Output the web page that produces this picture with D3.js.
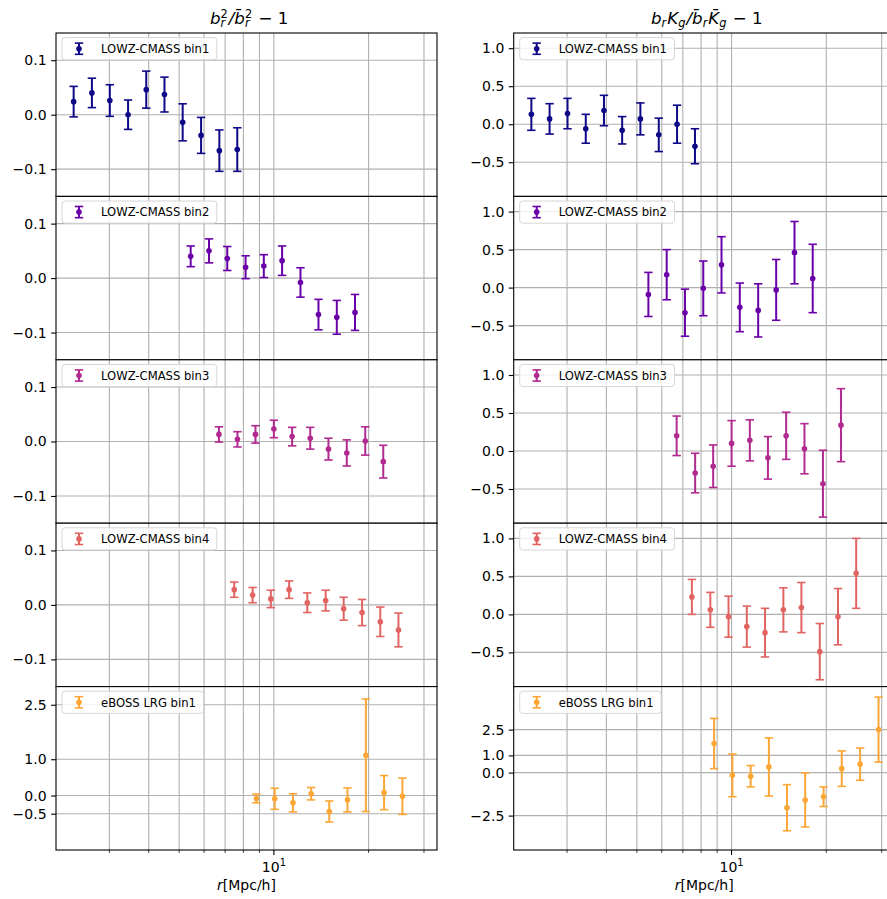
<!DOCTYPE html>
<html><head><meta charset="utf-8">
<script src="https://cdn.jsdelivr.net/npm/d3@7"></script>
<style>body{margin:0;background:#fff}svg{display:block;font-family:"DejaVu Sans",sans-serif}</style>
</head><body><svg id="c" width="887" height="899"></svg>
<script>
// ---------------- data ----------------
const labels = ["LOWZ-CMASS bin1","LOWZ-CMASS bin2","LOWZ-CMASS bin3","LOWZ-CMASS bin4","eBOSS LRG bin1"];
const colors = ["#0d0887","#6a00a8","#b12a90","#e16462","#fca636"];

const r_bin1  = [2.31, 2.64, 3.01, 3.44, 3.93, 4.49, 5.13, 5.87, 6.71, 7.65];
const r_bin2  = [5.44, 6.22, 7.11, 8.13, 9.29, 10.62, 12.15, 13.86, 15.85, 18.11];
const r_bin3  = [6.69, 7.66, 8.74, 10.0, 11.43, 13.05, 14.91, 17.05, 19.52, 22.27];
const r_bin4  = [7.48, 8.56, 9.78, 11.18, 12.77, 14.61, 16.67, 19.07, 21.79, 24.89];
const r_eboss = [8.80, 10.06, 11.50, 13.14, 15.00, 17.14, 19.61, 22.40, 25.62, 29.32];

const b2_bin1 = [0.024, 0.040, 0.026, 0.000, 0.046, 0.037, -0.014, -0.038, -0.066, -0.064];
const b2err_bin1 = [0.028, 0.027, 0.029, 0.027, 0.034, 0.032, 0.034, 0.033, 0.038, 0.040];
const b2_bin2 = [0.040, 0.050, 0.036, 0.020, 0.022, 0.032, -0.008, -0.067, -0.072, -0.063];
const b2err_bin2 = [0.019, 0.022, 0.022, 0.021, 0.021, 0.027, 0.027, 0.028, 0.031, 0.033];
const b2_bin3 = [0.013, 0.004, 0.013, 0.023, 0.009, 0.006, -0.014, -0.021, 0.001, -0.037];
const b2err_bin3 = [0.014, 0.014, 0.016, 0.016, 0.017, 0.020, 0.020, 0.024, 0.026, 0.030];
const b2_bin4 = [0.028, 0.018, 0.011, 0.028, 0.004, 0.008, -0.007, -0.014, -0.031, -0.046];
const b2err_bin4 = [0.014, 0.014, 0.016, 0.016, 0.018, 0.019, 0.021, 0.024, 0.027, 0.031];
const b2_eboss = [-0.08, -0.09, -0.20, 0.05, -0.44, -0.12, 1.11, 0.08, -0.02];
const b2err_eboss = [0.12, 0.29, 0.25, 0.17, 0.29, 0.33, 1.55, 0.47, 0.50];

const bk_bin1 = [0.13, 0.07, 0.14, -0.06, 0.18, -0.08, 0.07, -0.14, 0.00, -0.29];
const bkerr_bin1 = [0.21, 0.20, 0.20, 0.19, 0.20, 0.18, 0.21, 0.22, 0.25, 0.23];
const bk_bin2 = [-0.09, 0.17, -0.33, -0.01, 0.30, -0.26, -0.30, -0.03, 0.46, 0.12];
const bkerr_bin2 = [0.29, 0.33, 0.31, 0.36, 0.37, 0.32, 0.35, 0.40, 0.41, 0.45];
const bk_bin3 = [0.20, -0.29, -0.20, 0.10, 0.14, -0.09, 0.20, 0.03, -0.43, 0.34];
const bkerr_bin3 = [0.26, 0.26, 0.28, 0.30, 0.27, 0.28, 0.31, 0.33, 0.44, 0.48];
const bk_bin4 = [0.23, 0.06, -0.03, -0.16, -0.24, 0.06, 0.09, -0.49, -0.03, 0.54];
const bkerr_bin4 = [0.23, 0.23, 0.27, 0.27, 0.32, 0.29, 0.33, 0.37, 0.37, 0.46];
const bk_eboss = [1.69, -0.16, -0.21, 0.33, -2.04, -1.59, -1.40, 0.23, 0.49, 2.50];
const bkerr_eboss = [1.46, 1.24, 0.62, 1.69, 1.34, 1.57, 0.57, 1.03, 0.94, 1.89];

const xDomain = [2.03, 33.0];
const xGridTicks = [3, 4, 5, 6, 7, 8, 9, 10, 20, 30];
const xMajorTicks = [10];
const yDomainsLeft = [[-0.15, 0.15], [-0.15, 0.15], [-0.15, 0.15], [-0.15, 0.15], [-1.5, 3.0]];
const yTicksLeft = [[-0.1, 0, 0.1], [-0.1, 0, 0.1], [-0.1, 0, 0.1], [-0.1, 0, 0.1], [-0.5, 0, 1.0, 2.5]];
const yDomainsRight = [[-0.95, 1.2], [-0.95, 1.2], [-0.95, 1.2], [-0.95, 1.2], [-4.5, 5.0]];
const yTicksRight = [[-0.5, 0, 0.5, 1.0], [-0.5, 0, 0.5, 1.0], [-0.5, 0, 0.5, 1.0], [-0.5, 0, 0.5, 1.0], [-2.5, 0, 1.0, 2.5]];

const rs = [r_bin1, r_bin2, r_bin3, r_bin4, r_eboss];
const leftY = [b2_bin1, b2_bin2, b2_bin3, b2_bin4, b2_eboss];
const leftE = [b2err_bin1, b2err_bin2, b2err_bin3, b2err_bin4, b2err_eboss];
const rightY = [bk_bin1, bk_bin2, bk_bin3, bk_bin4, bk_eboss];
const rightE = [bkerr_bin1, bkerr_bin2, bkerr_bin3, bkerr_bin4, bkerr_eboss];

// ---------------- layout ----------------
const svg = d3.select("#c");
const colX = [[56, 437], [513.7, 894.7]];
const top0 = 33, ph = 163.4;
const fmt = d3.format(".1f");
const TICK = 14, LEG = 11.6;

function panel(col, row, xs, ys, es, color, label, yDom, yTicks) {
  const [x0, x1] = colX[col];
  const y0 = top0 + row * ph, y1 = y0 + ph;
  const x = d3.scaleLog().domain(xDomain).range([x0, x1]);
  const y = d3.scaleLinear().domain(yDom).range([y1, y0]);
  const g = svg.append("g");
  g.append("rect").attr("x", x0).attr("y", y0).attr("width", x1 - x0).attr("height", ph).attr("fill", "#fff");
  // grid
  g.selectAll(".gx").data(xGridTicks).join("line")
    .attr("x1", d => x(d)).attr("x2", d => x(d)).attr("y1", y0).attr("y2", y1)
    .attr("stroke", "#b0b0b0").attr("stroke-width", 1.1);
  g.selectAll(".gy").data(yTicks).join("line")
    .attr("x1", x0).attr("x2", x1).attr("y1", d => y(d)).attr("y2", d => y(d))
    .attr("stroke", "#b0b0b0").attr("stroke-width", 1.1);
  // y axis
  const ya = d3.axisLeft(y).tickValues(yTicks).tickFormat(fmt).tickSize(4.9).tickPadding(4.5);
  const yg = g.append("g").attr("transform", `translate(${x0},0)`).call(ya);
  yg.select(".domain").remove();
  yg.selectAll("line").attr("stroke", "#000").attr("stroke-width", 1.1);
  yg.selectAll("text").attr("font-size", TICK).attr("font-family", "DejaVu Sans").attr("fill", "#000");
  // error bars
  const pts = xs.slice(0, ys.length).map((v, i) => ({ x: v, y: ys[i], e: es[i] }));
  const eb = g.append("g").attr("stroke", color).attr("stroke-width", 2);
  eb.selectAll(".v").data(pts).join("line")
    .attr("x1", d => x(d.x)).attr("x2", d => x(d.x))
    .attr("y1", d => y(d.y - d.e)).attr("y2", d => y(d.y + d.e));
  eb.selectAll(".ct").data(pts).join("line")
    .attr("x1", d => x(d.x) - 4.2).attr("x2", d => x(d.x) + 4.2)
    .attr("y1", d => y(d.y + d.e)).attr("y2", d => y(d.y + d.e)).attr("stroke-width", 1.6);
  eb.selectAll(".cb").data(pts).join("line")
    .attr("x1", d => x(d.x) - 4.2).attr("x2", d => x(d.x) + 4.2)
    .attr("y1", d => y(d.y - d.e)).attr("y2", d => y(d.y - d.e)).attr("stroke-width", 1.6);
  g.selectAll(".pt").data(pts).join("circle")
    .attr("cx", d => x(d.x)).attr("cy", d => y(d.y)).attr("r", 2.8).attr("fill", color);
  // legend
  const lg = g.append("g");
  const lx = x0 + 6, ly = y0 + 4.6, lh = 22.2;
  const box = lg.append("rect").attr("x", lx).attr("y", ly).attr("height", lh).attr("rx", 3)
    .attr("fill", "#fff").attr("fill-opacity", 0.8).attr("stroke", "#d6d6d6").attr("stroke-width", 1);
  const mx = x0 + 23, my = ly + lh / 2;
  lg.append("line").attr("x1", mx).attr("x2", mx).attr("y1", my - 5.6).attr("y2", my + 5.6).attr("stroke", color).attr("stroke-width", 2);
  [-5.6, 5.6].forEach(dy => lg.append("line").attr("x1", mx - 4.2).attr("x2", mx + 4.2).attr("y1", my + dy).attr("y2", my + dy).attr("stroke", color).attr("stroke-width", 1.6));
  lg.append("circle").attr("cx", mx).attr("cy", my).attr("r", 2.8).attr("fill", color);
  const lt = lg.append("text").attr("x", x0 + 45).attr("y", my + 4.2).attr("font-size", LEG).attr("fill", "#000").text(label);
  const tw = lt.node().getComputedTextLength();
  box.attr("width", x0 + 45 + tw + 7.5 - lx);
  // frame
  g.append("rect").attr("x", x0).attr("y", y0).attr("width", x1 - x0).attr("height", ph)
    .attr("fill", "none").attr("stroke", "#000").attr("stroke-width", 1.1);
  // bottom x axis
  if (row === 4) {
    const xa = g.append("g");
    xGridTicks.filter(t => !xMajorTicks.includes(t)).forEach(t =>
      xa.append("line").attr("x1", x(t)).attr("x2", x(t)).attr("y1", y1).attr("y2", y1 + 2.8).attr("stroke", "#000").attr("stroke-width", 0.8));
    xMajorTicks.forEach(t => {
      xa.append("line").attr("x1", x(t)).attr("x2", x(t)).attr("y1", y1).attr("y2", y1 + 4.9).attr("stroke", "#000").attr("stroke-width", 1.1);
      const tt = xa.append("text").attr("x", x(t)).attr("y", y1 + 21.5).attr("text-anchor", "middle").attr("font-size", TICK);
      tt.append("tspan").text("10");
      tt.append("tspan").attr("dy", -6).attr("font-size", 9.8).text(Math.round(Math.log10(t)));
    });
    const xl = xa.append("text").attr("x", (x0 + x1) / 2).attr("y", y1 + 40).attr("text-anchor", "middle").attr("font-size", TICK);
    xl.append("tspan").attr("font-style", "italic").text("r");
    xl.append("tspan").text("[Mpc/h]");
  }
}

for (let i = 0; i < 5; i++) {
  panel(0, i, rs[i], leftY[i], leftE[i], colors[i], labels[i], yDomainsLeft[i], yTicksLeft[i]);
  panel(1, i, rs[i], rightY[i], rightE[i], colors[i], labels[i], yDomainsRight[i], yTicksRight[i]);
}

// ---------------- titles (math-like, single text element) ----------------
function mathTitle(cx, baseline, items) {
  const FS = 16.7, SS = 11.4;
  const meas = svg.append("text").attr("x", -1000).attr("y", -1000);
  function w(t, size, italic) {
    meas.attr("font-size", size).attr("font-style", italic ? "italic" : "normal").text(t);
    return meas.node().getComputedTextLength();
  }
  const spans = [];
  let xpos = 0;
  items.forEach(it => {
    if (it.t !== undefined) {
      spans.push({ t: it.t, x: xpos, y: 0, s: FS, i: !!it.it });
      xpos += w(it.t, FS, it.it);
    } else {
      let ww = 0;
      if (it.sup) { spans.push({ t: it.sup, x: xpos, y: -5.9, s: SS, i: false }); ww = Math.max(ww, w(it.sup, SS, false)); }
      if (it.sub) { spans.push({ t: it.sub, x: xpos, y: 3.4, s: SS, i: true }); ww = Math.max(ww, w(it.sub, SS, true)); }
      xpos += ww + 1;
    }
  });
  meas.remove();
  const off = cx - xpos / 2;
  const txt = svg.append("text").attr("xml:space", "preserve").attr("fill", "#000");
  spans.forEach(s => txt.append("tspan").attr("x", off + s.x).attr("y", baseline + s.y)
    .attr("font-size", s.s).attr("font-style", s.i ? "italic" : "normal").text(s.t));
}
mathTitle((colX[0][0] + colX[0][1]) / 2, 24, [
  { t: "b", it: true }, { sup: "2", sub: "r" }, { t: "/", it: true },
  { t: "b\u0304", it: true }, { sup: "2", sub: "r" }, { t: " \u2212 1" }
]);
mathTitle((colX[1][0] + colX[1][1]) / 2, 24, [
  { t: "b", it: true }, { sub: "r" }, { t: "K", it: true }, { sub: "g" }, { t: "/", it: true },
  { t: "b\u0304", it: true }, { sub: "r" }, { t: "K\u0304", it: true }, { sub: "g" }, { t: " \u2212 1" }
]);
</script></body></html>
